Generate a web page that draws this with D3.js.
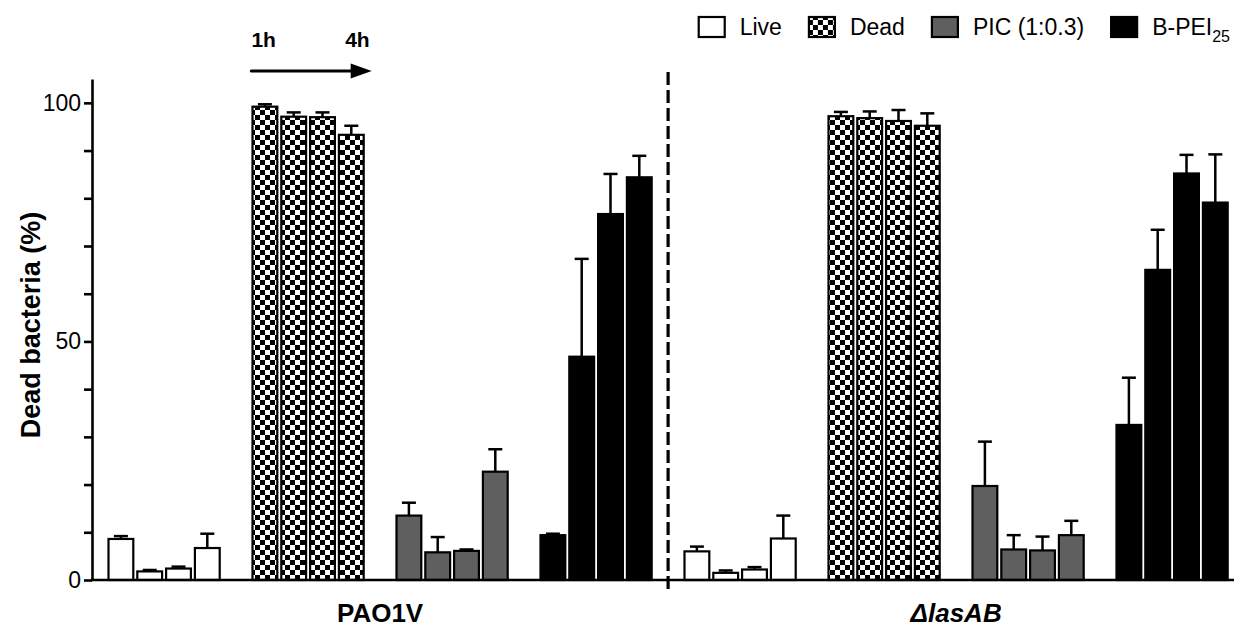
<!DOCTYPE html>
<html>
<head>
<meta charset="utf-8">
<script src="https://cdn.jsdelivr.net/npm/d3@7"></script>
<style>
  html, body { margin: 0; padding: 0; background: #fff; }
  svg { display: block; font-family: "Liberation Sans", Arial, sans-serif; }
</style>
</head>
<body>
<svg id="chart" width="1234" height="629"></svg>
<script>
// Strains, treatments and sampling times (1h → 4h)
const strains = ["PAO1V", "ΔlasAB"];
const treatments = ["Live", "Dead", "PIC (1:0.3)", "B-PEI25"];
const timepoints = ["1h", "2h", "3h", "4h"];

// Mean dead bacteria (%) per treatment, one value per time point
const pao1vLive = [8.6, 1.8, 2.4, 6.7];
const pao1vDead = [99.2, 97.1, 97.0, 93.3];
const pao1vPIC  = [13.5, 5.8, 6.1, 22.7];
const pao1vPEI  = [9.4, 46.8, 76.7, 84.4];

const lasLive = [6.0, 1.5, 2.2, 8.7];
const lasDead = [97.2, 96.8, 96.2, 95.2];
const lasPIC  = [19.7, 6.4, 6.2, 9.4];
const lasPEI  = [32.5, 65.0, 85.2, 79.1];

// Upper error (SD)
const pao1vLiveErr = [0.6, 0.3, 0.4, 3.0];
const pao1vDeadErr = [0.5, 0.9, 1.0, 1.9];
const pao1vPICErr  = [2.7, 3.2, 0.3, 4.7];
const pao1vPEIErr  = [0.3, 20.5, 8.4, 4.5];

const lasLiveErr = [1.0, 0.5, 0.5, 4.8];
const lasDeadErr = [0.9, 1.4, 2.3, 2.6];
const lasPICErr  = [9.3, 3.0, 2.9, 3.0];
const lasPEIErr  = [9.9, 8.4, 3.9, 10.1];

const yTicks = [0, 10, 20, 30, 40, 50, 60, 70, 80, 90, 100];
const yLabels = [0, 50, 100];

const means = {
  "PAO1V": [pao1vLive, pao1vDead, pao1vPIC, pao1vPEI],
  "ΔlasAB": [lasLive, lasDead, lasPIC, lasPEI]
};
const errs = {
  "PAO1V": [pao1vLiveErr, pao1vDeadErr, pao1vPICErr, pao1vPEIErr],
  "ΔlasAB": [lasLiveErr, lasDeadErr, lasPICErr, lasPEIErr]
};

const rows = [];
strains.forEach(s => treatments.forEach((t, ti) => timepoints.forEach((tp, pi) => {
  rows.push({ strain: s, treatment: t, tp, group: s + "|" + t,
              value: means[s][ti][pi], err: errs[s][ti][pi] });
})));

const svg = d3.select("#chart");
const defs = svg.append("defs");

// Checkerboard fill for the heat-killed control
const cell = 5;
const pat = defs.append("pattern")
  .attr("id", "checker").attr("patternUnits", "userSpaceOnUse")
  .attr("width", cell * 2).attr("height", cell * 2);
pat.append("rect").attr("width", cell * 2).attr("height", cell * 2).attr("fill", "#fff");
pat.append("rect").attr("width", cell).attr("height", cell).attr("fill", "#000");
pat.append("rect").attr("x", cell).attr("y", cell).attr("width", cell).attr("height", cell).attr("fill", "#000");

const fills = {
  "Live": "#ffffff",
  "Dead": "url(#checker)",
  "PIC (1:0.3)": "#5f5f5f",
  "B-PEI25": "#000000"
};

const groups = [];
strains.forEach(s => treatments.forEach(t => groups.push(s + "|" + t)));

const axisX = 92, baseY = 580;
const x0 = d3.scaleBand().domain(groups).range([106.5, 1229.7]).paddingInner(0.2).paddingOuter(0);
const x1 = d3.scaleBand().domain(timepoints).range([0, x0.bandwidth()]).padding(0);
const y = d3.scaleLinear().domain([0, 105]).range([baseY, 79]);

const barOuter = x1.bandwidth() - 1.8;
const sw = 2.2;

// Bars
const bars = svg.append("g");
bars.selectAll("rect").data(rows).join("rect")
  .attr("x", d => x0(d.group) + x1(d.tp) + (x1.bandwidth() - barOuter) / 2 + sw / 2)
  .attr("width", barOuter - sw)
  .attr("y", d => y(d.value))
  .attr("height", d => baseY - y(d.value))
  .attr("fill", d => fills[d.treatment])
  .attr("stroke", "#000")
  .attr("stroke-width", sw);

// Upper error bars
const eb = svg.append("g").attr("stroke", "#000").attr("stroke-width", 2.5);
const cx = d => x0(d.group) + x1(d.tp) + x1.bandwidth() / 2;
eb.selectAll("line.v").data(rows).join("line").attr("class", "v")
  .attr("x1", cx).attr("x2", cx)
  .attr("y1", d => y(d.value)).attr("y2", d => y(d.value + d.err));
eb.selectAll("line.c").data(rows).join("line").attr("class", "c")
  .attr("x1", d => cx(d) - 7).attr("x2", d => cx(d) + 7)
  .attr("y1", d => y(d.value + d.err)).attr("y2", d => y(d.value + d.err));

// Y axis
const yAxis = d3.axisLeft(y).tickValues(yTicks)
  .tickFormat(v => yLabels.includes(v) ? v : "")
  .tickSize(8).tickPadding(3).tickSizeOuter(0);
const yg = svg.append("g").attr("transform", `translate(${axisX},0)`).call(yAxis);
yg.select(".domain").attr("stroke-width", 2.6);
yg.selectAll(".tick line").attr("stroke-width", 2.6);
yg.selectAll(".tick text").attr("font-size", 23).attr("fill", "#000")
  .attr("font-family", "'Liberation Sans', Arial, sans-serif");

// X axis baseline
svg.append("line")
  .attr("x1", axisX - 1.3).attr("x2", 1234)
  .attr("y1", baseY).attr("y2", baseY)
  .attr("stroke", "#000").attr("stroke-width", 2.6);

// Divider between the two strains
const leftEnd = x0(strains[0] + "|" + treatments[3]) + x0.bandwidth();
const rightStart = x0(strains[1] + "|" + treatments[0]);
const divX = (leftEnd + rightStart) / 2;
svg.append("line")
  .attr("x1", divX).attr("x2", divX)
  .attr("y1", 72).attr("y2", baseY + 10)
  .attr("stroke", "#000").attr("stroke-width", 3.2)
  .attr("stroke-dasharray", "13,5");

// Strain labels
strains.forEach((s, i) => {
  const first = x0(s + "|" + treatments[0]);
  const last = x0(s + "|" + treatments[3]) + x0.bandwidth();
  svg.append("text")
    .attr("x", (first + last) / 2).attr("y", 622)
    .attr("text-anchor", "middle")
    .attr("font-size", 26).attr("font-weight", "bold")
    .attr("font-style", i === 1 ? "italic" : "normal")
    .text(s);
});

// Y title
svg.append("text")
  .attr("transform", `translate(40,325) rotate(-90)`)
  .attr("text-anchor", "middle")
  .attr("font-size", 27).attr("font-weight", "bold")
  .text("Dead bacteria (%)");

// Time arrow over the Dead bars of the first strain
const deadStart = x0(strains[0] + "|Dead") + (x1.bandwidth() - barOuter) / 2;
const deadEnd = x0(strains[0] + "|Dead") + x0.bandwidth();
const arrowY = 71;
svg.append("line")
  .attr("x1", deadStart).attr("x2", deadEnd - 12)
  .attr("y1", arrowY).attr("y2", arrowY)
  .attr("stroke", "#000").attr("stroke-width", 3.2).attr("stroke-linecap", "round");
svg.append("path")
  .attr("d", d3.line()([[deadEnd - 15, arrowY - 7.5], [deadEnd + 6, arrowY], [deadEnd - 15, arrowY + 7.5]]) + "Z")
  .attr("fill", "#000");
svg.append("text").attr("x", deadStart).attr("y", 47)
  .attr("font-size", 21).attr("font-weight", "bold").text(timepoints[0]);
svg.append("text").attr("x", deadEnd + 4).attr("y", 47).attr("text-anchor", "end")
  .attr("font-size", 21).attr("font-weight", "bold").text(timepoints[3]);

// Legend
const legend = svg.append("g");
let lx = 0;
treatments.forEach(t => {
  const g = legend.append("g").attr("transform", `translate(${lx},0)`);
  g.append("rect").attr("x", 1).attr("y", 17).attr("width", 26).attr("height", 20)
    .attr("fill", fills[t]).attr("stroke", "#000").attr("stroke-width", 2.2);
  const txt = g.append("text").attr("x", 42).attr("y", 35).attr("font-size", 23);
  if (t === "B-PEI25") {
    txt.append("tspan").text("B-PEI");
    txt.append("tspan").attr("font-size", 16).attr("dy", 7).text("25");
  } else {
    txt.text(t);
  }
  const w = 42 + txt.node().getComputedTextLength();
  lx += w + 26;
});
const legendW = lx - 26;
legend.attr("transform", `translate(${1230 - legendW},0)`);
</script>
</body>
</html>
